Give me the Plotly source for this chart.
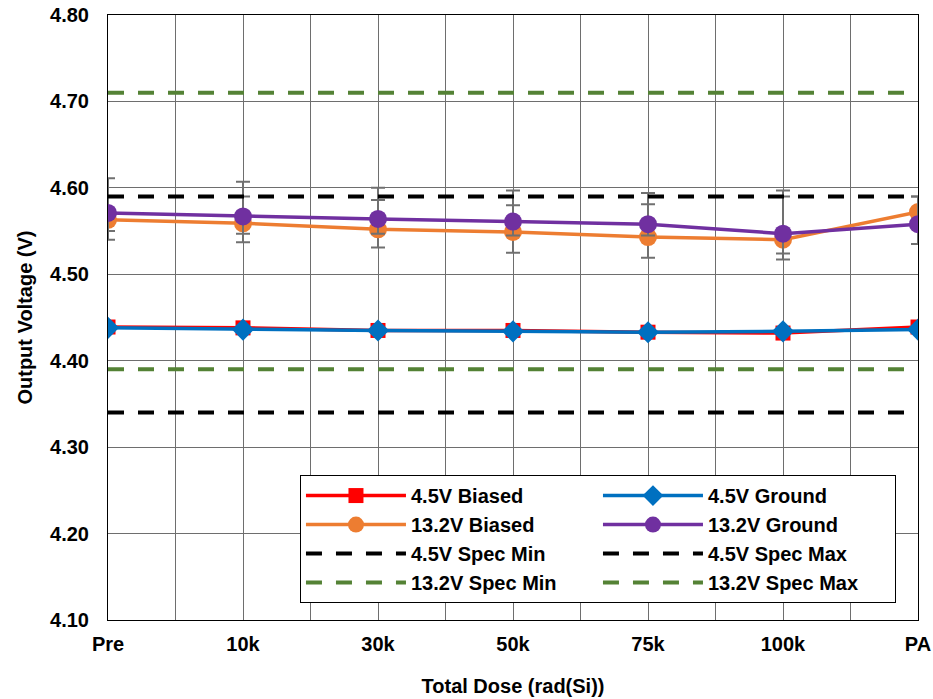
import plotly.graph_objects as go

categories = ["Pre", "10k", "30k", "50k", "75k", "100k", "PA"]
x_pos = list(range(len(categories)))

biased_45 = [4.439, 4.438, 4.435, 4.435, 4.433, 4.432, 4.439]
ground_45 = [4.438, 4.436, 4.435, 4.434, 4.433, 4.434, 4.436]
biased_132 = [4.563, 4.559, 4.552, 4.549, 4.543, 4.540, 4.572]
ground_132 = [4.571, 4.567, 4.564, 4.561, 4.558, 4.547, 4.558]

biased_132_err_plus = [0.027, 0.031, 0.034, 0.031, 0.038, 0.050, 0.018]
biased_132_err_minus = [0.023, 0.022, 0.021, 0.024, 0.024, 0.023, 0.010]
ground_132_err_plus = [0.040, 0.040, 0.036, 0.036, 0.036, 0.050, 0.032]
ground_132_err_minus = [0.021, 0.020, 0.017, 0.016, 0.013, 0.023, 0.023]

spec_min_45 = 4.34
spec_max_45 = 4.59
spec_min_132 = 4.39
spec_max_132 = 4.71

y_ticks = [4.10, 4.20, 4.30, 4.40, 4.50, 4.60, 4.70, 4.80]

FONT = "Liberation Sans"
GRID = "#6e6e6e"
ERR = "#707070"
FS = 20

fig = go.Figure()

fig.add_trace(go.Scatter(
    x=x_pos, y=biased_45, name="4.5V Biased", mode="lines+markers",
    line=dict(color="#FF0000", width=3.5),
    marker=dict(symbol="square", size=15, color="#FF0000"),
))
fig.add_trace(go.Scatter(
    x=x_pos, y=ground_45, name="4.5V Ground", mode="lines+markers",
    line=dict(color="#0070C0", width=3.5),
    marker=dict(symbol="diamond", size=17, color="#0070C0"),
))
fig.add_trace(go.Scatter(
    x=x_pos, y=biased_132, name="13.2V Biased", mode="lines+markers",
    line=dict(color="#ED7D31", width=3.5),
    marker=dict(symbol="circle", size=18, color="#ED7D31"),
    error_y=dict(type="data", symmetric=False, array=biased_132_err_plus,
                 arrayminus=biased_132_err_minus, color=ERR, thickness=2, width=7),
))
fig.add_trace(go.Scatter(
    x=x_pos, y=ground_132, name="13.2V Ground", mode="lines+markers",
    line=dict(color="#7030A0", width=3.5),
    marker=dict(symbol="circle", size=18, color="#7030A0"),
    error_y=dict(type="data", symmetric=False, array=ground_132_err_plus,
                 arrayminus=ground_132_err_minus, color=ERR, thickness=2, width=7),
))

def spec(val, name, color):
    fig.add_trace(go.Scatter(
        x=[x_pos[0], x_pos[-1]], y=[val, val], name=name, mode="lines",
        line=dict(color=color, width=4, dash="16px,14px"),
    ))

spec(spec_min_45, "4.5V Spec Min", "#000000")
spec(spec_max_45, "4.5V Spec Max", "#000000")
spec(spec_min_132, "13.2V Spec Min", "#548235")
spec(spec_max_132, "13.2V Spec Max", "#548235")

fig.update_layout(
    width=933, height=699,
    margin=dict(l=108, r=15, t=15, b=79),
    paper_bgcolor="white", plot_bgcolor="white",
    font=dict(family=FONT, size=FS, color="black"),
    legend=dict(
        orientation="h", x=0.237, y=0.028, xanchor="left", yanchor="bottom",
        bgcolor="white", bordercolor="black", borderwidth=1,
        entrywidth=182, entrywidthmode="pixels",
        font=dict(family=FONT, size=FS, color="black", weight="bold"),
        itemwidth=100, tracegroupgap=0,
    ),
    showlegend=True,
)

fig.update_xaxes(
    range=[x_pos[0], x_pos[-1]], automargin=False,
    tickmode="array", tickvals=x_pos, ticktext=categories,
    tickfont=dict(family=FONT, size=FS, weight="bold"),
    showgrid=True, gridcolor=GRID, gridwidth=1,
    minor=dict(dtick=0.5, tick0=0, showgrid=True, gridcolor=GRID, gridwidth=1),
    showline=True, linecolor="black", linewidth=1, mirror=True,
    ticks="", zeroline=False, ticklabelstandoff=6,
    title=dict(text="Total Dose (rad(Si))", font=dict(family=FONT, size=FS, weight="bold"), standoff=24),
)
fig.update_yaxes(
    range=[4.10, 4.80], automargin=False,
    tickmode="array", tickvals=y_ticks, ticktext=[f"{v:.2f}" for v in y_ticks],
    tickfont=dict(family=FONT, size=FS, weight="bold"),
    showgrid=True, gridcolor=GRID, gridwidth=1,
    showline=True, linecolor="black", linewidth=1, mirror=True,
    ticks="", zeroline=False, ticklabelstandoff=14,
    title=dict(text="Output Voltage (V)", font=dict(family=FONT, size=FS, weight="bold"), standoff=12),
)

fig.write_html("out.html", config={"displayModeBar": False},
               post_script="document.body.style.margin='0';")
